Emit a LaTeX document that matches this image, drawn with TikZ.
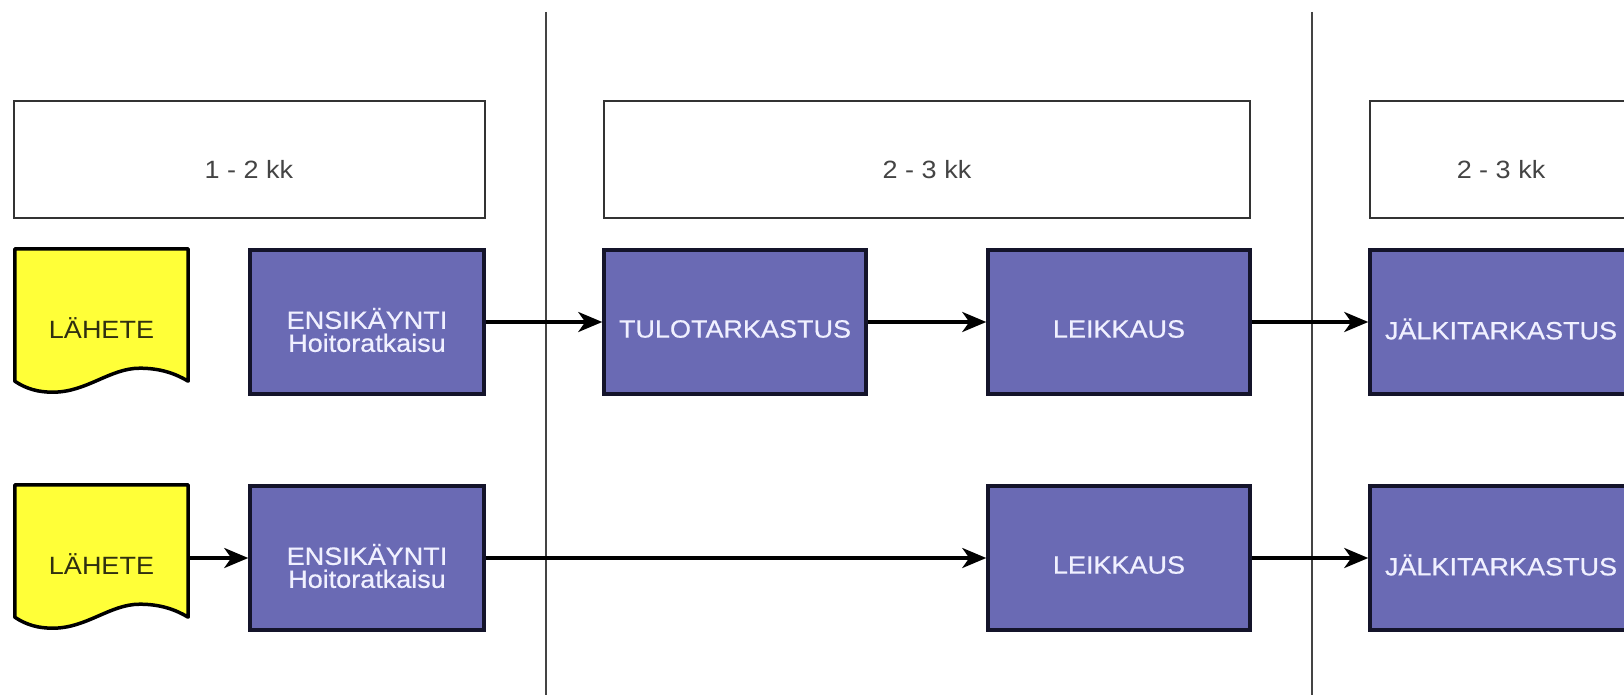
\documentclass[tikz,border=0pt]{standalone}
\usepackage{fontspec}
\setmainfont{Liberation Sans}[FakeStretch=1.08]
\newfontfamily\procfont{Liberation Sans}[FakeStretch=1.08, FakeBold=0.6]
\usetikzlibrary{arrows.meta,calc}

\definecolor{procfill}{HTML}{6A6AB4}
\definecolor{procedge}{HTML}{14142A}
\definecolor{proctext}{HTML}{F0F0FF}
\definecolor{docfill}{HTML}{FFFF38}
\definecolor{doctext}{HTML}{303010}
\definecolor{periodedge}{HTML}{333333}
\definecolor{periodtext}{HTML}{444444}
\definecolor{sepline}{HTML}{444444}

\begin{document}
\begin{tikzpicture}[x=1pt,y=-1pt,
  bigfont/.style={font=\fontsize{25}{23}\selectfont},
  proc/.style={draw=procedge, fill=procfill, line width=3.5pt,
    minimum width=262pt, minimum height=144pt, inner sep=0pt},
  firstproc/.style={proc, minimum width=234pt},
  proctext/.style={font=\procfont\fontsize{25}{23}\selectfont, text=proctext, align=center, yshift=-7pt},
  period/.style={draw=periodedge, line width=2pt, fill=white,
    minimum height=116pt, inner sep=0pt},
  periodtext/.style={bigfont, text=periodtext, yshift=-10pt},
  docnode/.style={minimum width=173pt, minimum height=132pt, inner sep=0pt},
  docline/.style={draw=black, fill=docfill, line width=3.5pt, line join=round},
  doclabel/.style={bigfont, text=doctext, yshift=-13pt},
  sep/.style={draw=sepline, line width=1.8pt},
  arr/.style={line width=3.5pt, -{Stealth[length=24pt, width=20pt, inset=7pt]}}
]
\clip (0,0) rectangle (1624,695);
\fill[white] (0,0) rectangle (1624,695);

% phase separators
\draw[sep] (546,12) -- (546,695);
\draw[sep] (1312,12) -- (1312,695);

% duration boxes
\node[period, minimum width=471pt, label={[periodtext]center:1 - 2 kk}] (p1) at (249,159.5) {};
\node[period, minimum width=646pt, label={[periodtext]center:2 - 3 kk}] (p2) at (927,159.5) {};
\node[period, minimum width=262pt, label={[periodtext]center:2 - 3 kk}] (p3) at (1501,159.5) {};

% referral documents (wavy bottom)
\foreach \nm/\cy in {lah1/315, lah2/551} {
  \node[docnode] (\nm) at (101.5,\cy) {};
  \path[docline] (\nm.north west) -- (\nm.north east) -- (\nm.south east)
    .. controls ($(\nm.south west)+(160,-8)$) and ($(\nm.south west)+(145,-13)$) .. ($(\nm.south west)+(125,-13)$)
    .. controls ($(\nm.south west)+(95,-13)$) and ($(\nm.south west)+(72,11)$) .. ($(\nm.south west)+(38,11)$)
    .. controls ($(\nm.south west)+(24,11)$) and ($(\nm.south west)+(12,8)$) .. (\nm.south west)
    -- cycle;
  \node[doclabel] at (\nm.center) {LÄHETE};
}

% path with pre-operative visit
\node[firstproc, label={[proctext, yshift=-1pt]center:{ENSIKÄYNTI\\Hoitoratkaisu}}] (ens1) at (367,322) {};
\node[proc, label={[proctext]center:TULOTARKASTUS}] (tulo) at (735,322) {};
\node[proc, label={[proctext]center:LEIKKAUS}] (leik1) at (1119,322) {};
\node[proc, label={[proctext]center:JÄLKITARKASTUS}] (jalk1) at (1501,322) {};

% direct path
\node[firstproc, label={[proctext, yshift=-1pt]center:{ENSIKÄYNTI\\Hoitoratkaisu}}] (ens2) at (367,558) {};
\node[proc, label={[proctext]center:LEIKKAUS}] (leik2) at (1119,558) {};
\node[proc, label={[proctext]center:JÄLKITARKASTUS}] (jalk2) at (1501,558) {};

% connectors
\draw[arr] (ens1.east) -- (tulo.west);
\draw[arr] (tulo.east) -- (leik1.west);
\draw[arr] (leik1.east) -- (jalk1.west);
\draw[arr] (lah2.east |- ens2.west) -- (ens2.west);
\draw[arr] (ens2.east) -- (leik2.west);
\draw[arr] (leik2.east) -- (jalk2.west);
\end{tikzpicture}
\end{document}
